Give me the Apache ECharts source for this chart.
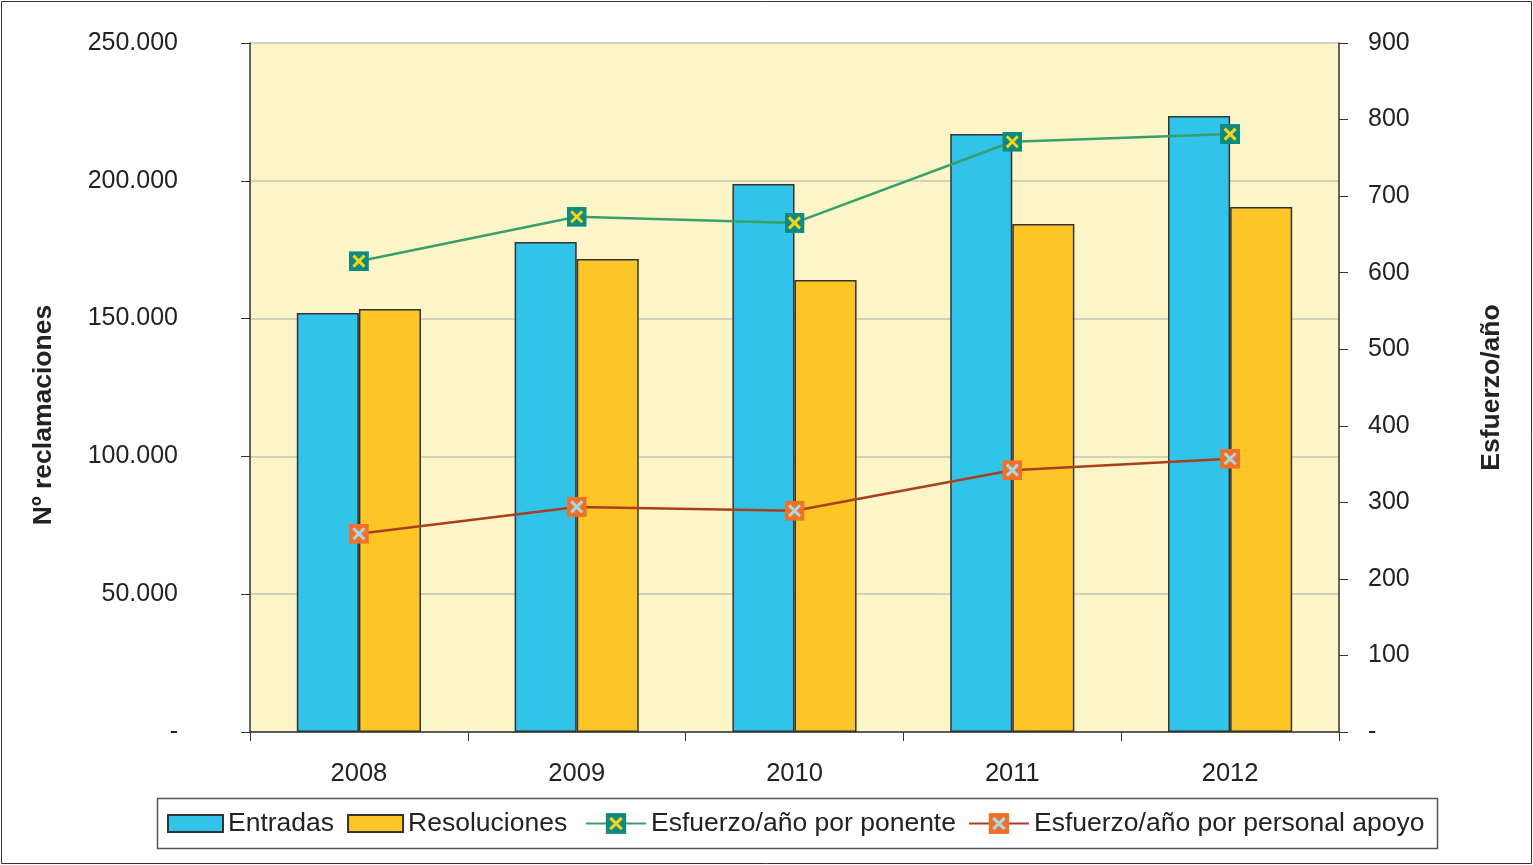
<!DOCTYPE html>
<html><head><meta charset="utf-8">
<script src="https://cdn.jsdelivr.net/npm/echarts@6/dist/echarts.min.js"></script>
<style>html,body{margin:0;padding:0;background:#fff}#c{width:1533px;height:865px}</style>
</head><body><div id="c"></div>
<script>
var years = ['2008','2009','2010','2011','2012'];
var entradas = [152000, 177800, 198800, 217000, 223500];
var resoluciones = [153500, 171600, 164000, 184300, 190500];
var esfPonente = [615, 673, 665, 771, 781];
var esfApoyo = [259, 294, 289, 342, 357];
var leftTickLabels = ['-', '50.000', '100.000', '150.000', '200.000', '250.000'];
var rightTickLabels = ['-', '100', '200', '300', '400', '500', '600', '700', '800', '900'];

function xMarker(bg, fg) {
  var svg = '<svg xmlns="http://www.w3.org/2000/svg" width="20" height="20" viewBox="0 0 20 20">' +
    '<rect x="0" y="0" width="20" height="20" fill="' + bg + '"/>' +
    '<path d="M4.5 4.5 L15.5 15.5 M15.5 4.5 L4.5 15.5" stroke="' + fg + '" stroke-width="3" fill="none"/></svg>';
  return 'image://data:image/svg+xml;charset=utf-8,' + encodeURIComponent(svg);
}
var font = '"Liberation Sans", Arial, sans-serif';
var legendText = {fontSize: 26.5, color: '#222', fontFamily: font};
var chart = echarts.init(document.getElementById('c'), null, {renderer: 'canvas'});
chart.setOption({
  animation: false,
  backgroundColor: '#ffffff',
  textStyle: {fontFamily: font},
  graphic: [
    {type: 'rect', shape: {x: 1.5, y: 1.5, width: 1530, height: 862}, style: {fill: 'none', stroke: '#333', lineWidth: 1}, silent: true, z: -1},
    {type: 'rect', shape: {x: 157.5, y: 798.5, width: 1280, height: 50}, style: {fill: '#fff', stroke: '#555', lineWidth: 1.5}, silent: true, z: -1}
  ],
  grid: {left: 250, right: 194, top: 43, bottom: 133, show: true, backgroundColor: '#fbf5c8', borderWidth: 0},
  legend: [{
    left: 167, top: 810, padding: 0,
    itemWidth: 55, itemHeight: 17, itemGap: 13,
    textStyle: legendText,
    data: [{name: 'Entradas', icon: 'rect'}, {name: 'Resoluciones', icon: 'rect'}]
  }, {
    left: 585, top: 810, padding: 0,
    itemWidth: 60, itemHeight: 26, itemGap: 12,
    textStyle: legendText,
    data: [{name: 'Esfuerzo/año por ponente'}, {name: 'Esfuerzo/año por personal apoyo'}]
  }],
  xAxis: {
    type: 'category', data: years,
    axisLine: {lineStyle: {color: '#333', width: 1.5}},
    axisTick: {show: true, length: 9, lineStyle: {color: '#333'}},
    axisLabel: {fontSize: 25.5, color: '#222', margin: 29}
  },
  yAxis: [{
    type: 'value', min: 0, max: 250000, interval: 50000,
    name: 'Nº reclamaciones', nameLocation: 'middle', nameGap: 193, nameRotate: 90,
    nameTextStyle: {fontSize: 26.5, fontWeight: 'bold', color: '#222', padding: [0, 55, 0, 0]},
    axisLine: {show: true, lineStyle: {color: '#333', width: 1.5}},
    axisTick: {show: true, length: 9, lineStyle: {color: '#333'}},
    axisLabel: {fontSize: 25, color: '#222', margin: 72, formatter: function (v) { return leftTickLabels[Math.round(v / 50000)]; }},
    splitLine: {show: true, lineStyle: {color: '#c8c6b8', width: 1.5}}
  }, {
    type: 'value', min: 0, max: 900, interval: 100, position: 'right',
    name: 'Esfuerzo/año', nameLocation: 'middle', nameGap: 139, nameRotate: 90,
    nameTextStyle: {fontSize: 26.5, fontWeight: 'bold', color: '#222'},
    axisLine: {show: true, lineStyle: {color: '#333', width: 1.5}},
    axisTick: {show: true, length: 9, lineStyle: {color: '#333'}},
    axisLabel: {fontSize: 25, color: '#222', margin: 29, formatter: function (v) { return rightTickLabels[Math.round(v / 100)]; }},
    splitLine: {show: false}
  }],
  series: [{
    name: 'Entradas', type: 'bar', data: entradas, barGap: '0%', barCategoryGap: '43%',
    itemStyle: {color: '#31c3e9', borderColor: '#333', borderWidth: 1.5}
  }, {
    name: 'Resoluciones', type: 'bar', data: resoluciones,
    itemStyle: {color: '#fdc526', borderColor: '#333', borderWidth: 1.5}
  }, {
    name: 'Esfuerzo/año por ponente', type: 'line', yAxisIndex: 1, data: esfPonente,
    symbol: xMarker('#0e8a7f', '#f5d51a'), symbolSize: 20,
    lineStyle: {color: '#3aa06a', width: 2.5}, itemStyle: {color: '#3aa06a'}
  }, {
    name: 'Esfuerzo/año por personal apoyo', type: 'line', yAxisIndex: 1, data: esfApoyo,
    symbol: xMarker('#f07028', '#a8d8e0'), symbolSize: 20,
    lineStyle: {color: '#a8401e', width: 2.5}, itemStyle: {color: '#a8401e'}
  }]
});
</script></body></html>
